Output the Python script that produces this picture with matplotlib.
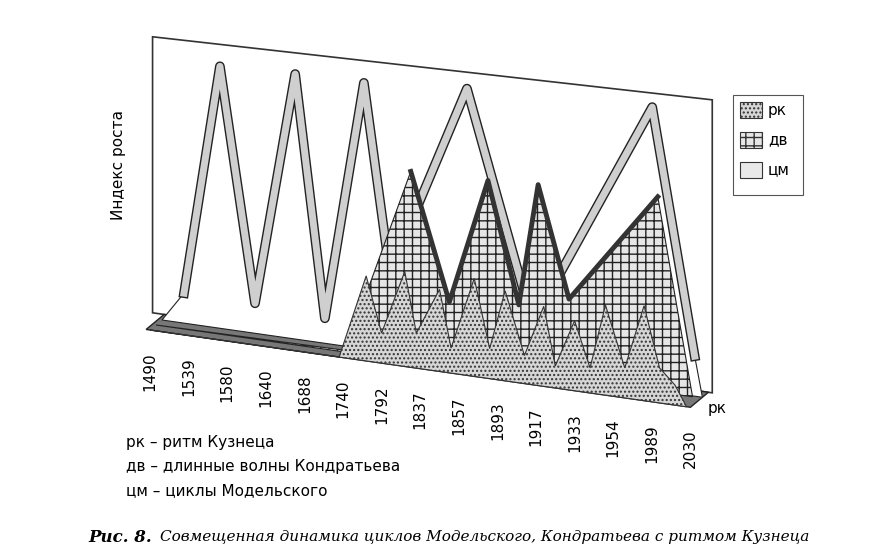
import matplotlib.pyplot as plt
import matplotlib.patheffects as pe
import numpy as np

years = ["1490", "1539", "1580", "1640", "1688", "1740", "1792", "1837",
         "1857", "1893", "1917", "1933", "1954", "1989", "2030"]

# positions along the time axis (category index) and heights (arbitrary index units)
cm_u = [0.0, 0.57, 1.5, 2.41, 3.45, 4.22, 5.23, 5.9, 7.9, 9.6, 12.7, 13.8, 14.0]
cm_v = [0, 30, 262, 30, 265, 25, 266, 80, 275, 50, 283, 40, 0]

dv_u = [0.0, 4.9, 6.6, 7.6, 8.6, 9.4, 9.9, 10.7, 13.0, 13.9]
dv_v = [0, 0, 190, 65, 192, 72, 195, 85, 200, 5]

rk_u = [0.0, 4.9, 5.6, 6.0, 6.6, 6.9, 7.5, 7.8, 8.4, 8.8, 9.2, 9.7, 10.2, 10.5, 11.0,
        11.4, 11.8, 12.3, 12.8, 13.2, 13.6, 13.9]
rk_v = [0, 0, 85, 30, 95, 35, 82, 25, 98, 30, 90, 28, 80, 22, 70, 25, 90, 30, 95, 35, 20, 0]


def proj(u, v, d):
    u = np.asarray(u, float)
    v = np.asarray(v, float)
    d = np.asarray(d, float)
    px = 150 + u * 38.6 + d * 6
    py = 330 + u * 38.6 * 0.143 - v - d * 5
    return px, py


fig = plt.figure(figsize=(8.91, 5.52), dpi=100)
ax = fig.add_axes([0, 0, 1, 1])
ax.set_xlim(0, 891)
ax.set_ylim(552, 0)
ax.axis("off")

# back wall
wx, wy = proj([-0.4, 14.1, 14.1, -0.4], [276, 293, 0, 0], 3)
ax.fill(wx, wy, facecolor="white", edgecolor="#333333", lw=1.2, zorder=1)

# floor strip
fx, fy = proj([-0.1, 14.0, 14.0, -0.1], [0, 0, 0, 0], [0, 0, 3, 3])
ax.fill(fx, fy, facecolor="#777777", edgecolor="#222222", lw=1, zorder=2)

# цм (back)
x, y = proj(cm_u, cm_v, 2)
ax.fill(x, y, facecolor="white", edgecolor="#222222", lw=0.8, zorder=3)
ax.plot(x[1:-1], y[1:-1], color="#cfcfcf", lw=5, zorder=4, solid_joinstyle="round",
        path_effects=[pe.Stroke(linewidth=7, foreground="#222222", joinstyle="round"),
                      pe.Normal()])

# дв (middle)
x, y = proj(dv_u, dv_v, 1)
ax.fill(x, y, facecolor="#e6e6e6", edgecolor="#222222", hatch="++", lw=0.8, zorder=5)
ax.plot(x[2:-1], y[2:-1], color="#333333", lw=3.5, zorder=6, solid_joinstyle="round")

# рк (front)
x, y = proj(rk_u, rk_v, 0)
ax.fill(x, y, facecolor="#d6d6d6", edgecolor="#333333", hatch="....", lw=0.8, zorder=7)

# ticks
for i, lab in enumerate(years):
    px, py = proj(i, 0, 0)
    ax.text(px, py + 22, lab, rotation=90, ha="center", va="top", fontsize=11, zorder=8)
px, py = proj(14.2, 0, 0)
ax.text(px + 10, py, "рк", fontsize=11, va="center")

ax.text(118, 165, "Индекс роста", rotation=90, ha="center", va="center", fontsize=11)

# legend
ax.add_patch(plt.Rectangle((733, 95), 70, 100, facecolor="white", edgecolor="#555555", lw=0.8))
for k, (lab, fc, h) in enumerate([("рк", "#d6d6d6", "...."), ("дв", "#e6e6e6", "++"),
                                  ("цм", "#e8e8e8", None)]):
    yy = 102 + k * 30
    ax.add_patch(plt.Rectangle((740, yy), 22, 16, facecolor=fc, edgecolor="#333333",
                               hatch=h, lw=0.8))
    ax.text(768, yy + 8, lab, va="center", fontsize=11)

ax.text(126, 442, "рк – ритм Кузнеца", fontsize=11, va="center")
ax.text(126, 467, "дв – длинные волны Кондратьева", fontsize=11, va="center")
ax.text(126, 491, "цм – циклы Модельского", fontsize=11, va="center")

ax.text(88, 537, "Рис. 8.", fontsize=12, fontweight="bold", style="italic",
        family="DejaVu Serif", va="center")
ax.text(160, 537, "Совмещенная динамика циклов Модельского, Кондратьева с ритмом Кузнеца",
        fontsize=11, style="italic", family="DejaVu Serif", va="center")

fig.savefig("out.png", dpi=100)
